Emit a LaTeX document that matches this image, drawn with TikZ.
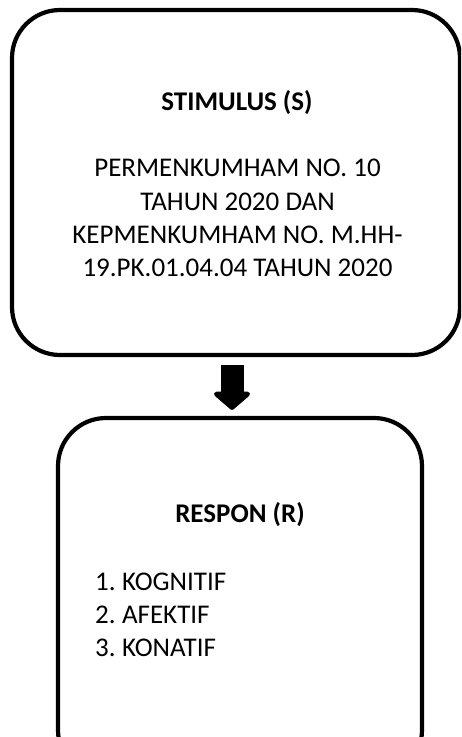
\documentclass[tikz,border=0pt]{standalone}
\usepackage{fontspec}
\setmainfont{Carlito}
\usetikzlibrary{arrows.meta}
\newcommand{\narrowspaces}{\spaceskip=0.16em\relax}
\begin{document}
\begin{tikzpicture}[x=1pt,y=-1pt,
  box/.style={draw=black, line width=4.2pt, rounded corners=48pt, inner sep=0pt},
  txt/.style={inner sep=0pt, font=\fontsize{27}{33.3}\selectfont},
  bigarrow/.style={line width=23pt, -{Triangle[width=43pt,length=19pt,round]}}]
\useasboundingbox (0,0) rectangle (461,737);
\clip (0,0) rectangle (461,737);
\node[box, minimum width=448pt, minimum height=345pt] (s) at (236,182.5) {};
\node[box, minimum width=364pt, minimum height=360pt] (r) at (240,598) {};
\node[txt, font=\fontsize{27}{33.3}\selectfont\bfseries, anchor=base] (st) at (237,110) {STIMULUS (S)};
\node[txt, align=center, text depth=0pt, anchor=south] (sb) at (237.5,277)
  {PERMENKUMHAM NO. 10\\TAHUN 2020 DAN\\KEPMENKUMHAM NO. M.HH-\\19.PK.01.04.04 TAHUN 2020};
\node[txt, font=\fontsize{27}{33.3}\selectfont\bfseries, anchor=base] (rt) at (240,522) {RESPON (R)};
\node[txt, font=\fontsize{27}{33.3}\selectfont\narrowspaces, align=left, text depth=0pt, anchor=south west] (rb) at (95,657)
  {1. KOGNITIF\\2. AFEKTIF\\3. KONATIF};
\draw[bigarrow] ([xshift=-4pt,yshift=-8pt]s.south) -- ([xshift=-8pt,yshift=6pt]r.north);
\end{tikzpicture}
\end{document}
